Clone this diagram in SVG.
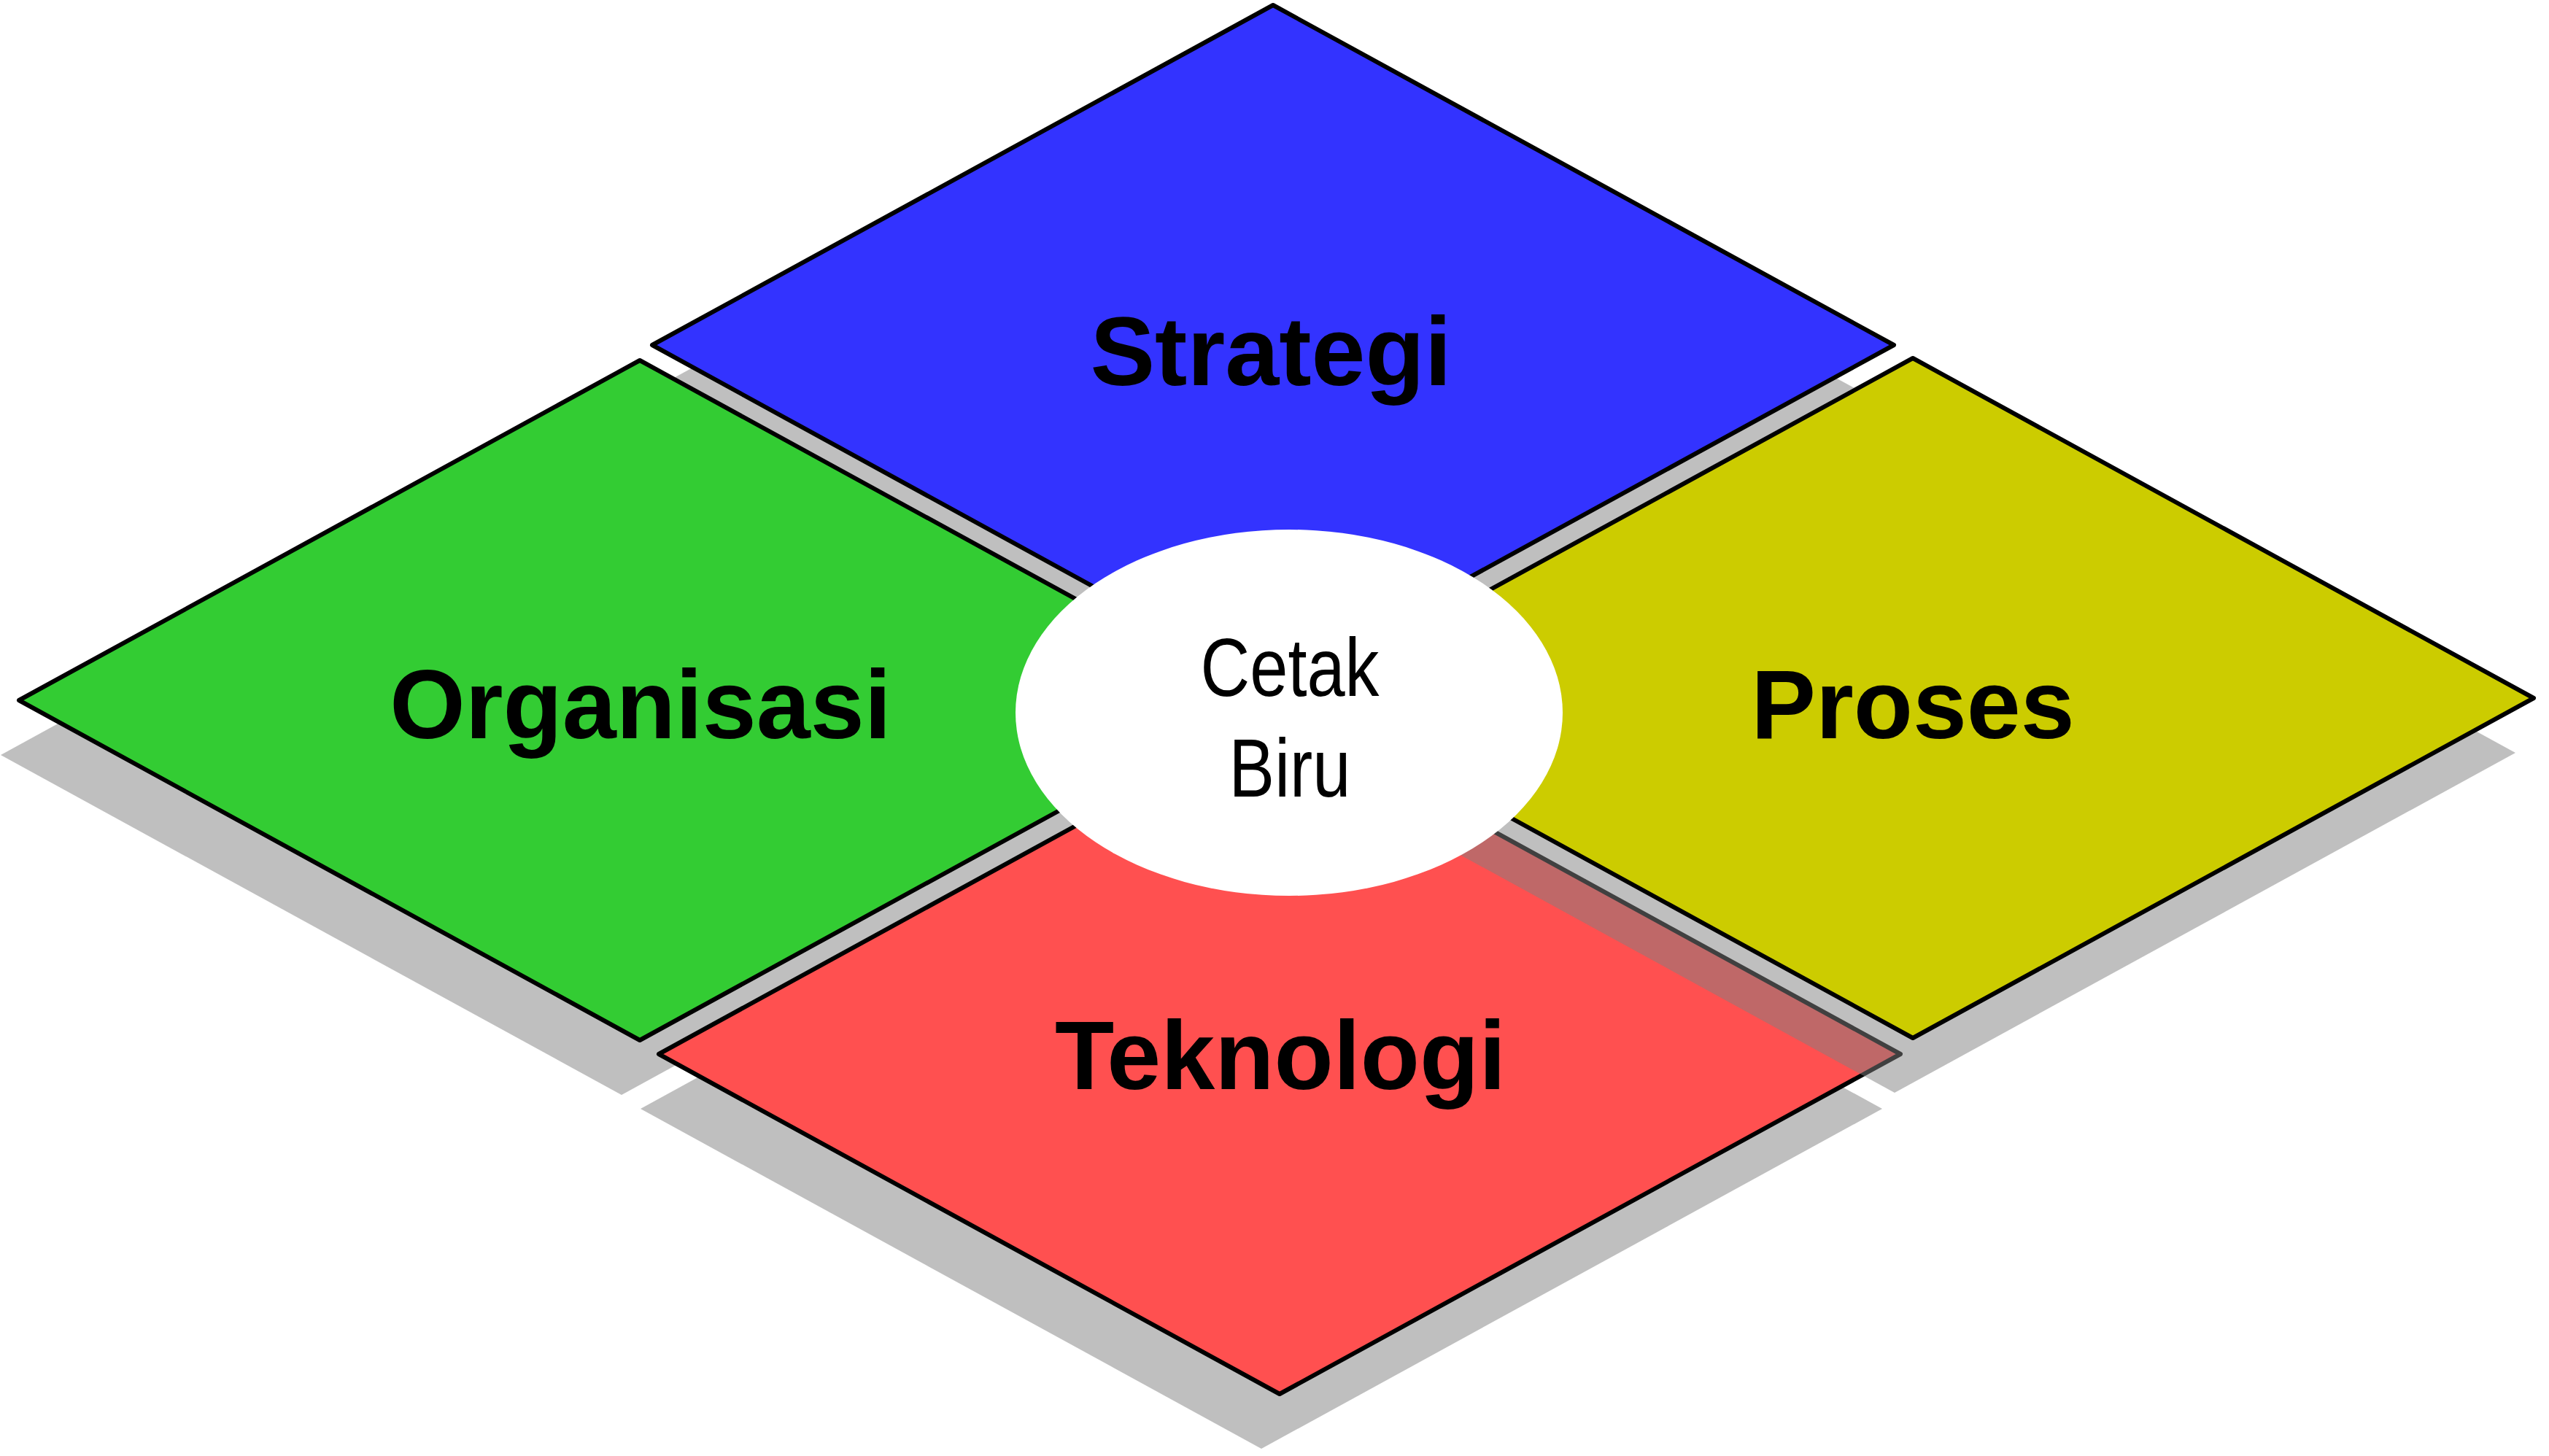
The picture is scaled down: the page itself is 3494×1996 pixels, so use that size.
<svg xmlns="http://www.w3.org/2000/svg" width="3494" height="1996" viewBox="0 0 3494 1996">
<style>
.shadow{fill:#808080;fill-opacity:0.5;stroke:none}
.tile{stroke:#000;stroke-width:6;stroke-linejoin:round}
.lbl{font-family:"Liberation Sans",Arial,sans-serif;font-weight:bold;font-size:133px;fill:#000;text-anchor:middle}
.ctr{font-family:"Liberation Sans",Arial,sans-serif;font-size:113px;fill:#000;text-anchor:middle}
</style>
<defs>
<polygon id="dia" points="0,-466 851,0 0,466 -851,0"/>
</defs>
<rect width="3494" height="1996" fill="#fff"/>
<g id="shadows-back">
<use href="#dia" class="shadow" transform="translate(1720,548)"/>
<use href="#dia" class="shadow" transform="translate(852,1035)"/>
</g>
<g id="strategi">
<use href="#dia" class="tile" fill="#3333FF" transform="translate(1745,473)"/>
<text class="lbl" x="1742" y="528">Strategi</text>
</g>
<g id="organisasi">
<use href="#dia" class="tile" fill="#33CC33" transform="translate(877,960)"/>
<text class="lbl" x="878" y="1012">Organisasi</text>
</g>
<g id="teknologi">
<use href="#dia" class="shadow" transform="translate(1729,1520)"/>
<use href="#dia" class="tile" fill="#FF5050" transform="translate(1754,1445)"/>
<text class="lbl" x="1755" y="1493">Teknologi</text>
</g>
<g id="proses">
<use href="#dia" class="shadow" transform="translate(2597,1032)"/>
<use href="#dia" class="tile" fill="#CCCC00" transform="translate(2622,957)"/>
<text class="lbl" x="2622" y="1012">Proses</text>
</g>
<g id="cetak-biru">
<ellipse cx="1767" cy="977" rx="375" ry="251" fill="#fff"/>
<text class="ctr" transform="translate(1768,954) scale(0.83,1)">Cetak</text>
<text class="ctr" transform="translate(1768,1092) scale(0.83,1)">Biru</text>
</g>
<g id="connectors"/>
</svg>
